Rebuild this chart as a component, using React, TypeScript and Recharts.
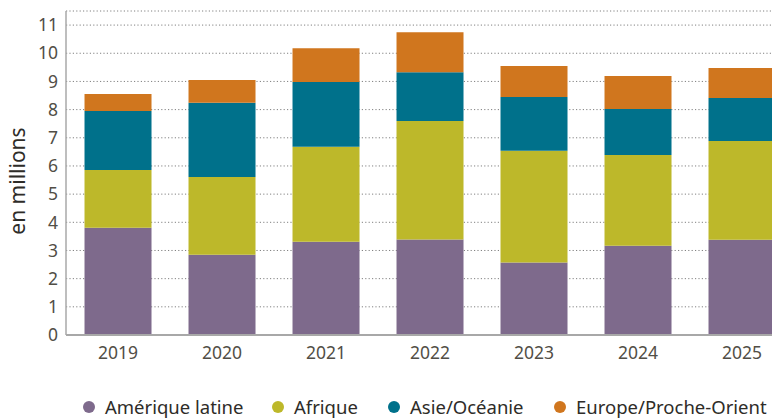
import React from 'react';
import {
  BarChart,
  Bar,
  XAxis,
  YAxis,
  CartesianGrid,
  Legend,
} from 'recharts';

const years = ['2019', '2020', '2021', '2022', '2023', '2024', '2025'];
const ameriqueLatine = [3.81, 2.85, 3.31, 3.39, 2.57, 3.17, 3.38];
const afrique = [2.05, 2.76, 3.37, 4.21, 3.97, 3.22, 3.51];
const asieOceanie = [2.09, 2.63, 2.3, 1.73, 1.91, 1.63, 1.52];
const europeProcheOrient = [0.6, 0.81, 1.2, 1.42, 1.1, 1.17, 1.07];
const yTicks = [0, 1, 2, 3, 4, 5, 6, 7, 8, 9, 10, 11];

const series = [
  { key: 'amerique', name: 'Amérique latine', color: '#7e6a8c' },
  { key: 'afrique', name: 'Afrique', color: '#bdb82a' },
  { key: 'asie', name: 'Asie/Océanie', color: '#00718b' },
  { key: 'europe', name: 'Europe/Proche-Orient', color: '#d0761e' },
];
const seriesValues = [ameriqueLatine, afrique, asieOceanie, europeProcheOrient];

// legend item widths so circles land where the original has them
const legendWidths = [189, 116, 166, 220];

const data = years.map((year, i) => {
  const row: Record<string, any> = { year };
  series.forEach((s, j) => { row[s.key] = seriesValues[j][i]; });
  return row;
});

const FONT = '"Noto Sans", sans-serif';
const TEXT = '#514e46';

const CustomLegend = () => (
  <div
    style={{
      height: 40,
      boxSizing: 'border-box',
      paddingTop: 15,
      paddingLeft: 83,
      display: 'flex',
      fontFamily: FONT,
      fontSize: 18.5,
      color: '#2e2c28',
      lineHeight: '22px',
    }}
  >
    {series.map((s, i) => (
      <div
        key={s.key}
        style={{ display: 'flex', alignItems: 'center', whiteSpace: 'nowrap', width: legendWidths[i], flex: 'none' }}
      >
        <span
          style={{
            width: 12,
            height: 12,
            borderRadius: 6,
            background: s.color,
            display: 'inline-block',
            marginRight: 10,
            flex: 'none',
          }}
        />
        {s.name}
      </div>
    ))}
  </div>
);

const YLabel = ({ viewBox }: any) => {
  const cx = viewBox.x + 17;
  const cy = viewBox.y + viewBox.height / 2 + 8;
  return (
    <text
      x={cx}
      y={cy}
      transform={`rotate(-90 ${cx} ${cy})`}
      textAnchor="middle"
      dominantBaseline="central"
      fill="#2e2c28"
      fontSize={21}
      fontFamily={FONT}
    >
      en millions
    </text>
  );
};

export default function App() {
  return (
    <div style={{ position: 'absolute', left: 0, top: 0, width: 772, height: 419, overflow: 'hidden', background: '#fff' }}>
      <BarChart
        width={794}
        height={419}
        data={data}
        margin={{ top: 11, right: 0, left: 0, bottom: 0 }}
        barCategoryGap="17.8%"
      >
        <CartesianGrid
          horizontal
          vertical={false}
          stroke="#808080"
          strokeDasharray="1.2 2.2"
        />
        <XAxis
          dataKey="year"
          height={44}
          tickLine={false}
          axisLine={{ stroke: '#a8a8a8', strokeWidth: 2 }}
          tick={{ fill: TEXT, fontSize: 17.5, fontFamily: FONT }}
          tickMargin={6}
          interval={0}
        />
        <YAxis
          width={66}
          domain={[0, 11.5]}
          ticks={yTicks}
          interval={0}
          tickLine={false}
          axisLine={{ stroke: '#a8a8a8', strokeWidth: 1.5 }}
          tick={{ fill: TEXT, fontSize: 17.5, fontFamily: FONT }}
          tickMargin={2}
          label={<YLabel />}
        />
        <Legend verticalAlign="bottom" align="left" content={<CustomLegend />} />
        {series.map(s => (
          <Bar
            key={s.key}
            dataKey={s.key}
            name={s.name}
            stackId="a"
            fill={s.color}
            isAnimationActive={false}
          />
        ))}
      </BarChart>
    </div>
  );
}
